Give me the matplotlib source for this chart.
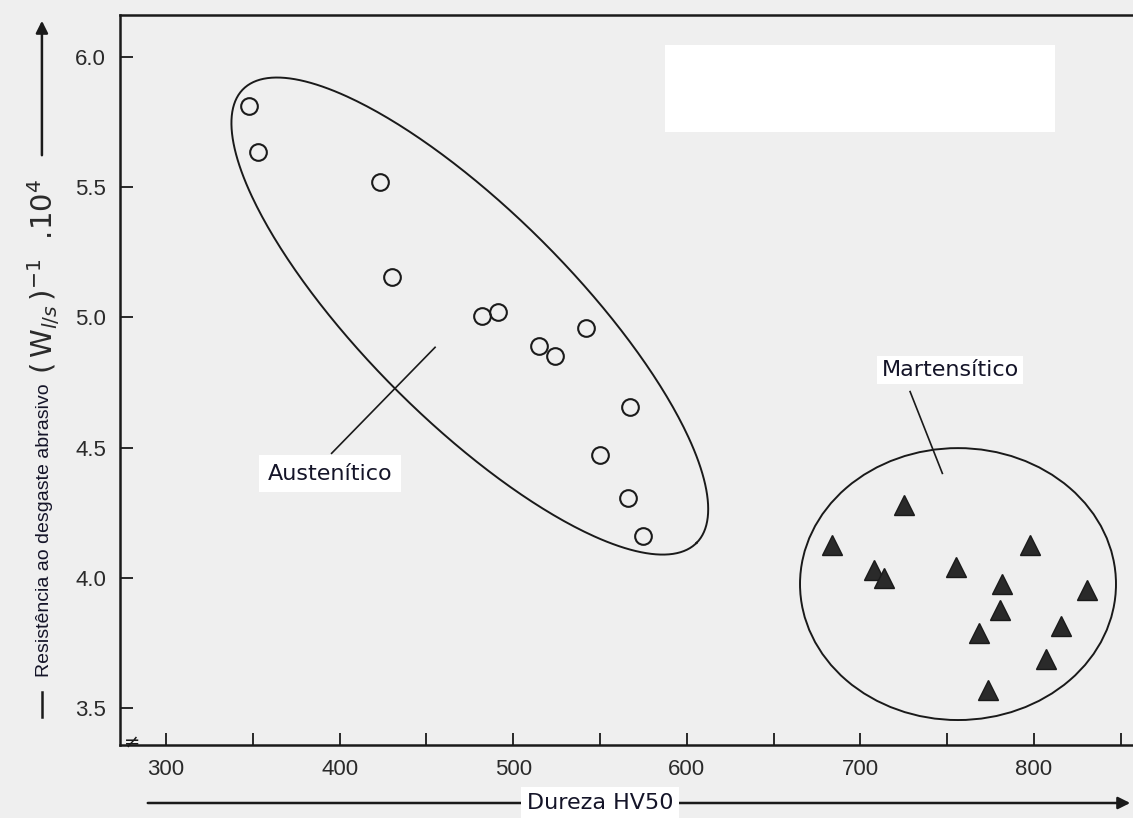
import numpy as np
import matplotlib
matplotlib.use('Agg')
import matplotlib.pyplot as plt
from matplotlib.patches import Ellipse, Rectangle

# Data (HV50 hardness vs. abrasive wear resistance)
aus_hv = [348, 353, 423, 430, 482, 491, 515, 524, 542, 567, 550, 566, 575]
aus_res = [5.81, 5.635, 5.52, 5.155, 5.005, 5.02, 4.89, 4.85, 4.96, 4.655, 4.47, 4.305, 4.16]

mart_hv = [725, 683.5, 797.5, 755, 708, 713.5, 781.5, 830.5, 780.5, 815.5, 768.5, 807, 773.5]
mart_res = [4.28, 4.125, 4.125, 4.04, 4.03, 4.0, 3.975, 3.955, 3.875, 3.815, 3.79, 3.69, 3.57]

x_ticks = [300, 400, 500, 600, 700, 800]
y_ticks = [3.5, 4.0, 4.5, 5.0, 5.5, 6.0]

ink = '#1a1a1a'
paper = '#efefef'
sans = ['Liberation Sans', 'DejaVu Sans']

fig = plt.figure(figsize=(11.33, 8.18), dpi=100, facecolor=paper)
ax = fig.add_axes([0.1059, 0.0892, 0.8941, 0.8925])
ax.set_facecolor(paper)

# scatter
ax.plot(aus_hv, aus_res, 'o', ms=12, mfc='none', mec=ink, mew=1.5, zorder=4)
ax.plot(mart_hv, mart_res, '^', ms=14, mfc='#2a2a2a', mec=ink, mew=1, zorder=4)

# group outlines (tilted ellipse given by two half-axis vectors in data units)
t = np.linspace(0, 2 * np.pi, 400)
cx, cy = 475.0, 5.005
u = (130.6, -0.871)
v = (42.4, 0.283)
ax.plot(cx + u[0] * np.cos(t) + v[0] * np.sin(t),
        cy + u[1] * np.cos(t) + v[1] * np.sin(t), color=ink, lw=1.4, zorder=3)
ax.add_patch(Ellipse((756.2, 3.976), 182, 1.044, fill=False, ec=ink, lw=1.4, zorder=3))

# leader lines + labels
ax.plot([395.4, 455.0], [4.478, 4.885], color=ink, lw=1.2, zorder=3)
ax.plot([728.6, 747.2], [4.715, 4.401], color=ink, lw=1.2, zorder=3)
ax.text(394.5, 4.40, 'Austenítico', ha='center', va='center', fontsize=16, color='#141428',
        family='DejaVu Sans', zorder=5,
        bbox=dict(fc='white', ec='none', pad=6))
ax.text(751.6, 4.798, 'Martensítico', ha='center', va='center', fontsize=16, color='#141428',
        family='DejaVu Sans', zorder=5,
        bbox=dict(fc='white', ec='none', pad=3))

# axes styling
ax.set_xticks(x_ticks)
ax.set_xticks(np.arange(250, 851, 50), minor=True)
ax.set_yticks(y_ticks)
ax.set_yticklabels(['%.1f' % y for y in y_ticks])
ax.set_xlim(273.5, 857)
ax.set_ylim(3.358, 6.161)
ax.tick_params(direction='in', length=9, width=1.3, colors=ink, labelsize=16, pad=10,
               labelcolor='#2a2a2a')
ax.tick_params(which='minor', direction='in', length=9, width=1.3, colors=ink)
for lab in ax.get_xticklabels() + ax.get_yticklabels():
    lab.set_family(sans)
ax.spines['right'].set_visible(False)
for s in ['left', 'top', 'bottom']:
    ax.spines[s].set_linewidth(1.8)
    ax.spines[s].set_color(ink)

# axis break marks at the corner
ax.text(0.012, 0.004, '≠', transform=ax.transAxes, ha='center', va='center',
        fontsize=14, color=ink, family='DejaVu Sans')

# blank patch over old legend
fig.add_artist(Rectangle((665 / 1133, 1 - 132 / 818), 390 / 1133, 87 / 818,
                         transform=fig.transFigure, fc='white', ec='none', zorder=6))

# y axis title with arrow
fig.text(0.039, 1 - 530 / 818, 'Resistência ao desgaste abrasivo',
         rotation=90, ha='center', va='center', fontsize=14, color='#141428', family=sans)
fig.text(0.039, 1 - 276 / 818, r'$(\,\mathrm{W}_{l/s}\,)^{-1}$  .10$^{4}$',
         rotation=90, ha='center', va='center', fontsize=21, color='#2a2a2a')
fig.add_artist(plt.Line2D([0.037, 0.037], [1 - 717 / 818, 1 - 692 / 818],
                          transform=fig.transFigure, color=ink, lw=1.8))
ax.annotate('', xy=(0.037, 1 - 18 / 818), xytext=(0.037, 1 - 158 / 818),
            xycoords='figure fraction', textcoords='figure fraction',
            arrowprops=dict(arrowstyle='-|>', color=ink, lw=1.8, mutation_scale=18))

# x axis title with arrow
ax.annotate('', xy=(1.0, 1 - 803 / 818), xytext=(145 / 1133, 1 - 803 / 818),
            xycoords='figure fraction', textcoords='figure fraction',
            arrowprops=dict(arrowstyle='-|>', color=ink, lw=1.8, mutation_scale=18))
fig.text(600 / 1133, 1 - 803 / 818, 'Dureza HV50', ha='center', va='center', fontsize=16,
         color='#141428', family='DejaVu Sans',
         bbox=dict(fc='white', ec='none', pad=4))

fig.savefig('out.png', dpi=100, facecolor=paper)
